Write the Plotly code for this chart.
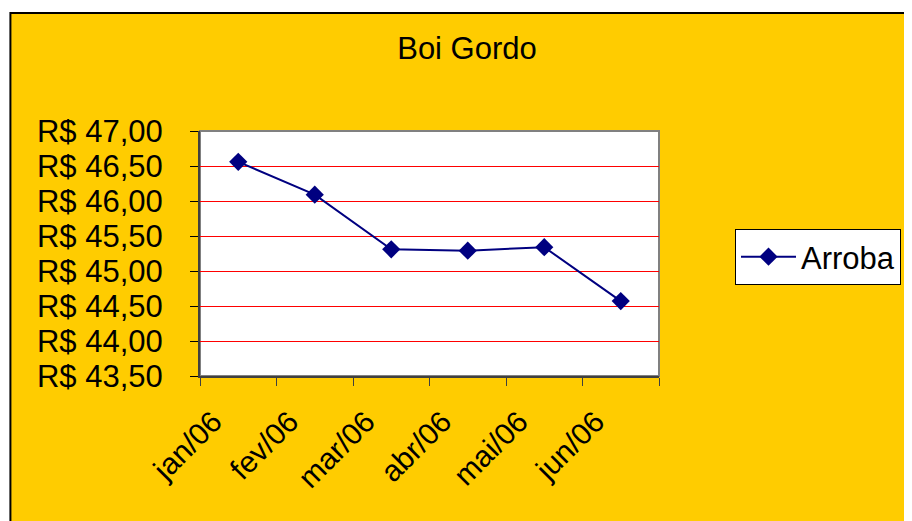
import plotly.graph_objects as go

months = ["jan/06", "fev/06", "mar/06", "abr/06", "mai/06", "jun/06"]
arroba = [46.56, 46.09, 45.31, 45.29, 45.34, 44.57]
y_ticks = [43.5, 44.0, 44.5, 45.0, 45.5, 46.0, 46.5, 47.0]
y_labels = ["R$ 43,50", "R$ 44,00", "R$ 44,50", "R$ 45,00",
            "R$ 45,50", "R$ 46,00", "R$ 46,50", "R$ 47,00"]

OFF = 8  # page body margin
W, H = 912 - OFF, 521 - OFF
L, T = 200 - OFF, 131 - OFF
R = W - (660 - OFF)
B = H - (376 - OFF)
pw, ph = W - L - R, H - T - B

def px(sx):  # screen x -> paper x
    return (sx - OFF - L) / pw

def py(sy):  # screen y -> paper y
    return (H - B - (sy - OFF)) / ph

FONT = "Liberation Sans, Arial, sans-serif"
GOLD = "#FFCC00"
NAVY = "#000080"

fig = go.Figure()
fig.add_trace(go.Scatter(
    x=months, y=arroba, mode="lines+markers", name="Arroba",
    line=dict(color=NAVY, width=2),
    marker=dict(symbol="diamond", size=14, color=NAVY),
))

shapes = [
    dict(type="rect", xref="paper", yref="paper", x0=px(0), x1=px(930),
         y0=py(13), y1=py(0), fillcolor="white", line=dict(width=0), layer="below"),
    dict(type="rect", xref="paper", yref="paper", x0=px(0), x1=px(10),
         y0=py(530), y1=py(0), fillcolor="white", line=dict(width=0), layer="below"),
    dict(type="rect", xref="paper", yref="paper", x0=px(10), x1=px(930),
         y0=py(530), y1=py(13), line=dict(color="black", width=2),
         fillcolor="rgba(0,0,0,0)", layer="below"),
    dict(type="rect", xref="paper", yref="paper", x0=0, x1=1, y0=0, y1=1,
         line=dict(color="#808080", width=2), fillcolor="rgba(0,0,0,0)", layer="below"),
]

fig.update_layout(
    width=W, height=H,
    margin=dict(l=L, r=R, t=T, b=B),
    paper_bgcolor=GOLD, plot_bgcolor="white",
    font=dict(family=FONT, color="black", size=30),
    title=dict(text="Boi Gordo", x=(467 - OFF) / W, xanchor="center",
               y=1 - (48 - OFF) / H, yanchor="middle", font=dict(size=31, family=FONT)),
    showlegend=True,
    legend=dict(x=px(735), y=py(229), xanchor="left", yanchor="top",
                bgcolor="white", bordercolor="black", borderwidth=1,
                itemwidth=55, font=dict(size=31, family=FONT)),
    shapes=shapes,
    xaxis=dict(
        type="category", range=[-0.5, 5.5], tickangle=-45,
        tickson="boundaries", ticks="outside", ticklen=8, tickcolor="#404040",
        showline=True, linecolor="#404040", linewidth=2, showgrid=False,
        tickfont=dict(size=30, family=FONT), zeroline=False,
        ticklabelshift=-25, ticklabelstandoff=14,
    ),
    yaxis=dict(
        range=[43.5, 47.0], tickvals=y_ticks, ticktext=y_labels,
        ticks="outside", ticklen=8, tickcolor="black",
        showline=True, linecolor="#404040", linewidth=2,
        showgrid=True, gridcolor="#FF0000", gridwidth=1, zeroline=False,
        tickfont=dict(size=31, family=FONT), ticklabelstandoff=21,
    ),
)

fig.write_html("out.html")
